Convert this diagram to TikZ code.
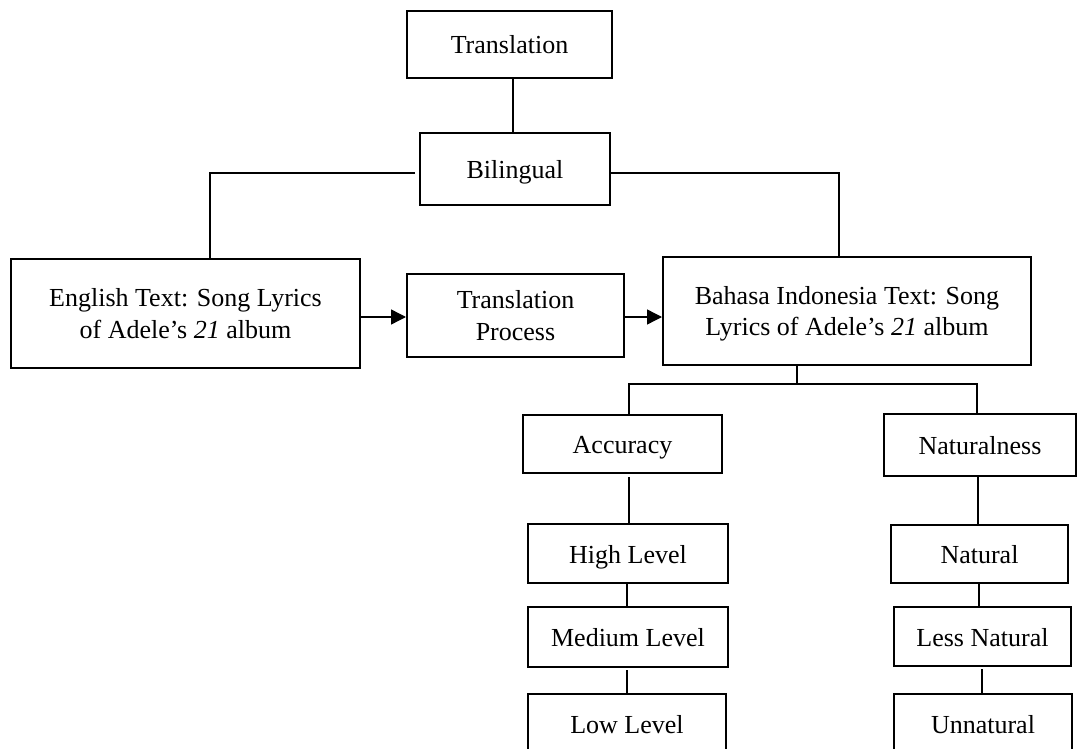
\documentclass[tikz,border=0pt]{standalone}
\usepackage{fontspec}
\setmainfont{Liberation Serif}
\usetikzlibrary{arrows.meta}
\begin{document}
\begin{tikzpicture}[x=1pt,y=1pt,
  box/.style={draw, line width=2pt, align=center, inner sep=0pt,
              font=\fontsize{26}{31.5}\selectfont},
  onebox/.style={box, text height=24pt, text depth=5pt},
  link/.style={line width=1.4pt},
  arr/.style={link, -{Triangle[length=15pt,width=15pt]}}]
\useasboundingbox (0,0) rectangle (1077,-749);
\clip (0,0) rectangle (1077,-749);

% boxes
\node[onebox, minimum width=205, minimum height=67] (trans) at (509.5,-44.5) {Translation};
\node[onebox, minimum width=190, minimum height=72] (bil) at (515,-169) {Bilingual};
\node[box, minimum width=349, minimum height=109] (eng) at (185.5,-313.5)
  {English Text: Song Lyrics\\of Adele’s \textit{21} album};
\node[box, minimum width=217, minimum height=83] (tp) at (515.5,-315.5)
  {Translation\\Process};
\node[box, minimum width=368, minimum height=108, text depth=0pt] (bah) at (847,-311)
  {Bahasa Indonesia Text: Song\\Lyrics of Adele’s \textit{21} album};
\node[onebox, minimum width=199, minimum height=58] (acc) at (622.5,-444) {Accuracy};
\node[onebox, minimum width=192, minimum height=62] (nat) at (980,-445) {Naturalness};
\node[onebox, minimum width=200, minimum height=59] (high) at (628,-553.5) {High Level};
\node[onebox, minimum width=200, minimum height=60] (med) at (628,-637) {Medium Level};
\node[onebox, minimum width=198, minimum height=60] (low) at (627,-724) {Low Level};
\node[onebox, minimum width=177, minimum height=58] (natural) at (979.5,-554) {Natural};
\node[onebox, minimum width=177, minimum height=59] (less) at (982.5,-636.5) {Less Natural};
\node[onebox, minimum width=178, minimum height=60] (unnat) at (983,-724) {Unnatural};

% helper coordinates for connector positions
\coordinate (xt) at (513,0);
\coordinate (xl) at (210,0);
\coordinate (xr) at (839,0);
\coordinate (ay) at (0,-317);
\coordinate (hb) at (797,-384);
\coordinate (hl) at (629,-384);
\coordinate (hr) at (977,-384);
\coordinate (xa) at (627,0);
\coordinate (xn1) at (978,0);
\coordinate (xn2) at (979,0);
\coordinate (xn3) at (982,0);

% connectors
\draw[link] (trans.south -| xt) -- (bil.north -| xt);
\draw[link] ([yshift=-4pt,xshift=-4pt]bil.west) -| (eng.north -| xl);
\draw[link] ([yshift=-4pt]bil.east) -| (bah.north -| xr);
\draw[arr] (eng.east |- ay) -- (tp.west |- ay);
\draw[arr] (tp.east |- ay) -- (bah.west |- ay);
\draw[link] (bah.south -| hb) -- (hb);
\draw[link] (acc.north -| hl) -- (hl) -- (hr) -- (nat.north -| hr);
\draw[link, shorten <=3pt] (acc.south -| hl) -- (high.north -| hl);
\draw[link] (high.south -| xa) -- (med.north -| xa);
\draw[link, shorten <=2pt] (med.south -| xa) -- (low.north -| xa);
\draw[link] (nat.south -| xn1) -- (natural.north -| xn1);
\draw[link] (natural.south -| xn2) -- (less.north -| xn2);
\draw[link, shorten <=2pt] (less.south -| xn3) -- (unnat.north -| xn3);
\end{tikzpicture}
\end{document}
